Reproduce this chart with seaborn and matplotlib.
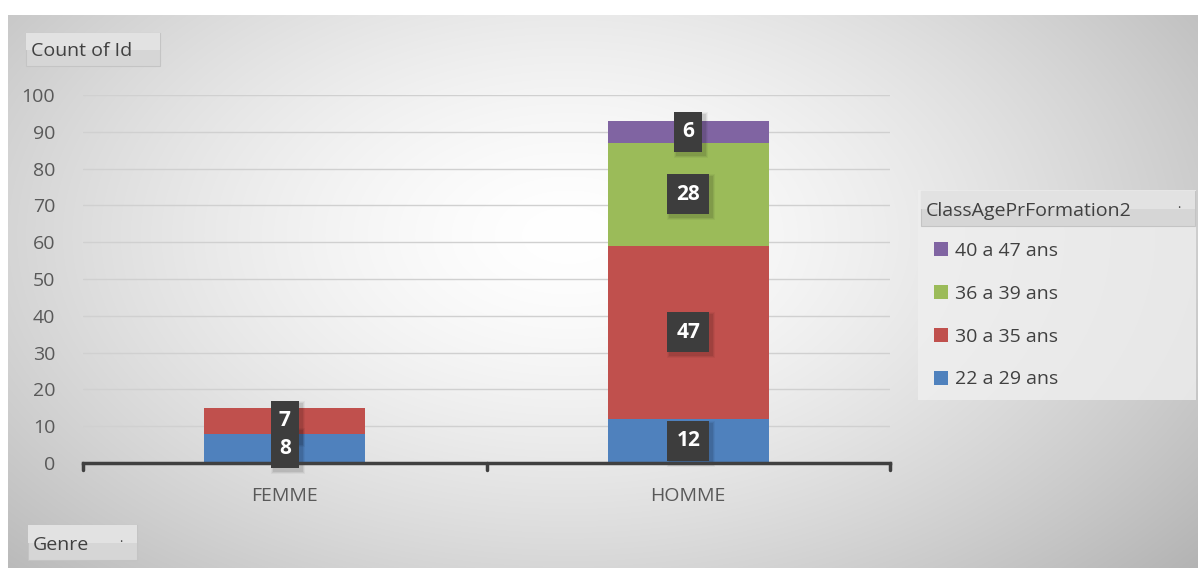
import numpy as np
import pandas as pd
import matplotlib
matplotlib.use("Agg")
import matplotlib.pyplot as plt
from matplotlib.patches import Rectangle, Patch
import seaborn as sns

# ---- data ----
genres = ["FEMME", "HOMME"]
age_classes = ["22 a 29 ans", "30 a 35 ans", "36 a 39 ans", "40 a 47 ans"]
counts_22_29 = [8, 12]
counts_30_35 = [7, 47]
counts_36_39 = [0, 28]
counts_40_47 = [0, 6]
y_ticks = [0, 10, 20, 30, 40, 50, 60, 70, 80, 90, 100]
colors = ["#4F81BD", "#C0504D", "#9BBB59", "#8064A2"]

series = [counts_22_29, counts_30_35, counts_36_39, counts_40_47]

sns.set_theme(style="white")
plt.rcParams['font.family'] = ['Open Sans', 'DejaVu Sans']

W, H = 1198, 568
fig = plt.figure(figsize=(W / 100, H / 100), dpi=100)
fig.patch.set_facecolor("white")

# background radial gradient
bg = fig.add_axes([8 / W, 0, 1 - 8 / W, 1 - 15 / H], zorder=-10)
yy, xx = np.mgrid[0:553, 0:1190]
cx, cy = 560, 220
d = np.sqrt(((xx - cx) / 720.0) ** 2 + ((yy - cy) / 440.0) ** 2)
val = 1.0 - 0.24 * np.clip(d, 0, 1.2) ** 1.5
img = np.dstack([val, val, val])
bg.imshow(img, aspect="auto", extent=[0, 1, 0, 1], interpolation="bilinear")
bg.set_axis_off()

ax = fig.add_axes([83 / W, 1 - 463 / H, (890 - 83) / W, (463 - 95) / H])
ax.set_facecolor("none")

bottom = np.zeros(len(genres))
for name, vals, col in zip(age_classes, series, colors):
    d_ = pd.DataFrame({"Genre": genres, "Count": vals})
    sns.barplot(data=d_, x="Genre", y="Count", color=col, width=0.4,
                bottom=bottom, ax=ax, saturation=1, zorder=3, errorbar=None,
                linewidth=0, edgecolor="none")
    bottom = bottom + np.array(vals)

ax.set_xlim(-0.5, 1.5)
ax.set_ylim(0, 100)

# data labels (dark boxes with soft shadow)
px_x = 2.0 / (890 - 83)
px_y = 100.0 / (463 - 95)
bottom = np.zeros(len(genres))
for vals in series:
    for i, v in enumerate(vals):
        if v > 0:
            yc = bottom[i] + v / 2
            wpx = 28 if v < 10 else 42
            hpx = 40
            bw, bh = wpx * px_x, hpx * px_y
            for k, a in [(6, 0.04), (4, 0.06), (2, 0.08)]:
                sh = Rectangle((i - bw / 2 + (3 - k / 2) * px_x, yc - bh / 2 - (3 + k / 2) * px_y),
                               bw + k * px_x, bh + k * px_y,
                               fc="black", ec="none", alpha=a, zorder=5, clip_on=False)
                ax.add_patch(sh)
            bx = Rectangle((i - bw / 2, yc - bh / 2), bw, bh,
                           fc="#3d3d3d", ec="none", zorder=6, clip_on=False)
            ax.add_patch(bx)
            ax.text(i, yc, str(v), ha="center", va="center", color="white",
                    fontsize=15, fontweight="bold", zorder=7)
    bottom = bottom + np.array(vals)

ax.set_yticks(y_ticks)
ax.set_yticklabels([str(t) for t in y_ticks], fontsize=14, color="#595959")
ax.yaxis.grid(True, color="#d0d0d0", linewidth=1, zorder=0)
ax.set_axisbelow(True)
ax.tick_params(axis="y", length=0, pad=20)
ax.tick_params(axis="x", length=0, pad=17, labelsize=14, labelcolor="#595959")
ax.set_xlabel("")
ax.set_ylabel("")
for s in ["top", "right", "left"]:
    ax.spines[s].set_visible(False)
ax.spines["bottom"].set_color("#404040")
ax.spines["bottom"].set_linewidth(2.5)
ax.spines["bottom"].set_zorder(5)
for xt in [-0.5, 0.5, 1.5]:
    ax.plot([xt, xt], [0, -1.8], color="#404040", lw=2.5, clip_on=False, zorder=5)

# field buttons
def button(x0, y0, x1, y1, label, arrow=False, fs=14):
    r = Rectangle((x0 / W, 1 - y1 / H), (x1 - x0) / W, (y1 - y0) / H,
                  transform=fig.transFigure, fc="#d6d6d6", ec="#c4c4c4", lw=0.8, zorder=2)
    fig.patches.append(r)
    r2 = Rectangle((x0 / W, 1 - (y0 + (y1 - y0) * 0.5) / H), (x1 - x0) / W, (y1 - y0) * 0.5 / H,
                   transform=fig.transFigure, fc="#e2e2e2", ec="none", zorder=2)
    fig.patches.append(r2)
    fig.text((x0 + 5) / W, 1 - ((y0 + y1) / 2 + 2) / H, label, ha="left", va="center",
             fontsize=fs, color="#404040", zorder=3)
    if arrow:
        fig.text((x1 - 16) / W, 1 - (y0 + y1) / 2 / H, "·", ha="center", va="center",
                 fontsize=9, color="#404040", zorder=3)

button(26, 33, 160, 66, "Count of Id")
button(28, 525, 137, 560, "Genre", arrow=True)

# legend panel
panel = Rectangle((918 / W, 1 - 400 / H), (1196 - 918) / W, (400 - 190) / H,
                  transform=fig.transFigure, fc="#efefef", ec="none", alpha=0.8, zorder=1)
fig.patches.append(panel)
button(921, 191, 1195, 226, "ClassAgePrFormation2", arrow=True)

handles = [Patch(facecolor=c, edgecolor="none") for c in colors][::-1]
labels = age_classes[::-1]
leg = fig.legend(handles, labels, loc="upper left",
                 bbox_to_anchor=(926 / W, 1 - 234 / H), frameon=False,
                 fontsize=14, labelcolor="#404040", handlelength=0.75, handleheight=0.75,
                 handletextpad=0.35, labelspacing=1.28, borderaxespad=0)

fig.savefig("out.png", dpi=100)
